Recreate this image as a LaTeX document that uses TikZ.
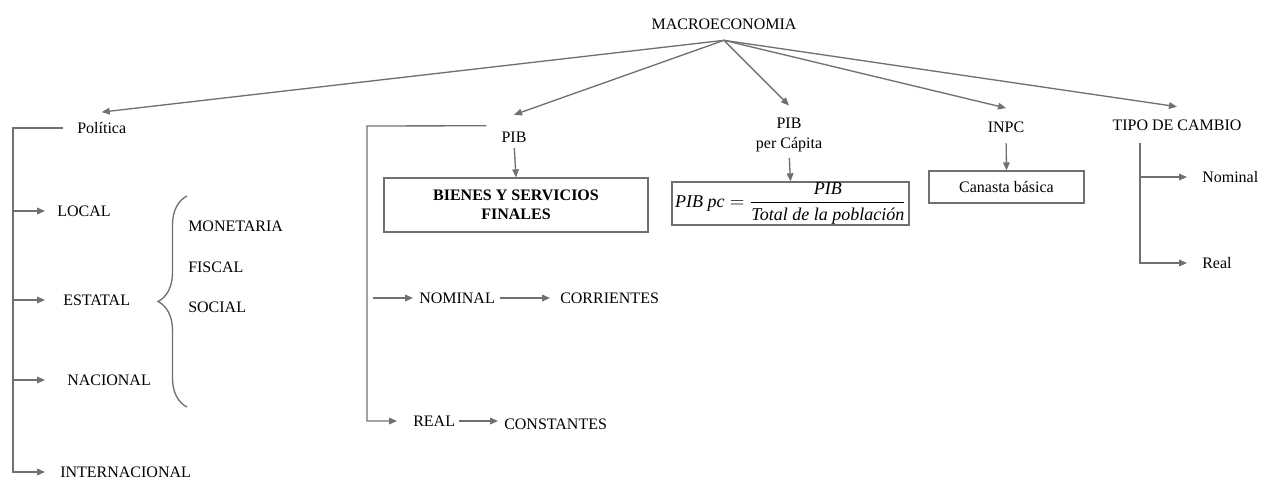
\documentclass[tikz,border=0pt]{standalone}
\usepackage{amsmath}
\usepackage{fontspec}
\setmainfont{Liberation Serif}
\usepackage{tikz}
\usetikzlibrary{arrows.meta,decorations.pathreplacing}
\definecolor{linea}{RGB}{112,112,112}

\begin{document}
\begin{tikzpicture}[x=0.75pt,y=-0.75pt,
    txt/.style={inner sep=0pt, font=\fontsize{12}{14.5}\selectfont},
    caja/.style={draw=linea, line width=1pt, inner sep=0pt, align=center, font=\fontsize{12}{14.5}\selectfont},
    ln/.style={draw=linea, line width=1pt},
    arr/.style={ln, -{Triangle[length=6pt,width=5pt]}}]
    \useasboundingbox (0,0) rectangle (1261,479);

    % Titulo
    \node[txt, inner ysep=8pt] (macro) at (724,24) {MACROECONOMIA};

    % Primer nivel
    \node[txt, anchor=west] (pol) at (77,128) {Política};
    \node[txt] (pib) at (514,137) {PIB};
    \node[txt, align=center] (pibpc) at (789,135) {PIB\\per Cápita};
    \node[txt] (inpc) at (1006,127) {INPC};
    \node[txt] (tipo) at (1177,125) {TIPO DE CAMBIO};

    \foreach \n/\s in {pol/7.5,pib/12.5,pibpc/9.5,inpc/10,tipo/9.5}
        \draw[arr] (macro.south) -- ([yshift=\s pt]\n.north);

    % Politica
    \node[txt, anchor=west] (local) at (57,211) {LOCAL};
    \node[txt, anchor=west] (estatal) at (63,300) {ESTATAL};
    \node[txt, anchor=west] (nacional) at (67,380) {NACIONAL};
    \node[txt, anchor=west] (inter) at (60,472) {INTERNACIONAL};
    \node[txt, anchor=west] (monet) at (188,226) {MONETARIA};
    \node[txt, anchor=west] (fiscal) at (188,267) {FISCAL};
    \node[txt, anchor=west] (social) at (188,307) {SOCIAL};

    \coordinate (polbar) at (13,128);
    \draw[arr, shorten >=11.25pt] ([xshift=-10.5pt]pol.west) -- (polbar) |- (inter.west);
    \draw[arr, shorten >=9pt] (polbar |- local.west) -- (local.west);
    \draw[arr, shorten >=13.5pt] (polbar |- estatal.west) -- (estatal.west);
    \draw[arr, shorten >=16.5pt] (polbar |- nacional.west) -- (nacional.west);
    \draw[ln, decorate, decoration={brace, amplitude=21.75pt}] (187,407) -- (187,196);

    % PIB
    \node[caja, font=\fontsize{12}{14.5}\selectfont\bfseries, minimum width=198pt, minimum height=40.5pt] (bienes) at (516,205) {BIENES Y SERVICIOS\\FINALES};
    \node[txt, anchor=west] (nominal) at (419,298) {NOMINAL};
    \node[txt, anchor=west] (corr) at (560,298) {CORRIENTES};
    \node[txt, anchor=west] (real) at (413,421) {REAL};
    \node[txt, anchor=west] (const) at (504,424) {CONSTANTES};

    \draw[arr, shorten <=4pt] (pib.south) -- (bienes.north);
    \coordinate (pibbar) at (367,126);
    \draw[arr, shorten >=12pt] ([xshift=-11.25pt,yshift=4.3pt]pib.north west) -- (pibbar) |- (real.west);
    \draw[arr, shorten <=4.5pt, shorten >=4.5pt] (pibbar |- nominal.west) -- (nominal.west);
    \draw[arr, shorten <=3.75pt, shorten >=7.5pt] (nominal.east) -- (corr.west);
    \draw[arr, shorten <=3pt, shorten >=4.5pt] (real.east) -- (real.east -| const.west);

    % PIB per Capita
    \node[caja, font=\fontsize{13.5}{16}\selectfont, minimum width=177.75pt, minimum height=32.25pt] (formula) at (790.5,203.5)
        {$\displaystyle \textit{PIB pc} = \frac{\textit{PIB}}{\textit{Total de la población}}$};
    \draw[arr, shorten <=4.5pt] (pibpc.south) -- (formula.north);

    % INPC
    \node[caja, minimum width=116.25pt, minimum height=24pt] (canasta) at (1006.5,187) {Canasta básica};
    \draw[arr, shorten <=8pt] (inpc.south) -- (canasta.north);

    % Tipo de cambio
    \node[txt, anchor=west] (tnom) at (1202,177) {Nominal};
    \node[txt, anchor=west] (treal) at (1202,263) {Real};
    \coordinate (tipobar) at (1140,143);
    \draw[arr, shorten >=11.25pt] (tipobar) |- (treal.west);
    \draw[arr, shorten >=11.25pt] (tipobar |- tnom.west) -- (tnom.west);
\end{tikzpicture}
\end{document}
